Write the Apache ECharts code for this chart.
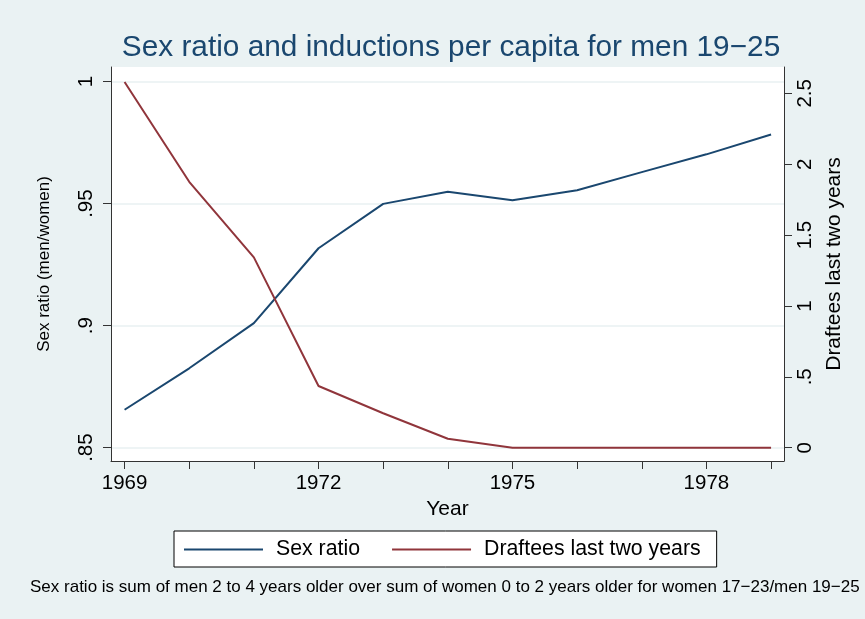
<!DOCTYPE html>
<html>
<head>
<meta charset="utf-8">
<script src="https://cdn.jsdelivr.net/npm/echarts@6/dist/echarts.min.js"></script>
<style>
	html, body { margin: 0; padding: 0; background: #eaf2f3; }
	#chart { width: 865px; height: 619px; }
</style>
</head>
<body>
<div id="chart"></div>
<script>
// years and values
var years = [1969, 1970, 1971, 1972, 1973, 1974, 1975, 1976, 1977, 1978, 1979];
var sexRatio = [0.8655, 0.8825, 0.901, 0.9317, 0.9499, 0.9549, 0.9514, 0.9555, 0.9629, 0.9702, 0.9783];
var draftees = [2.58, 1.876, 1.343, 0.435, 0.243, 0.063, 0, 0, 0, 0, 0];

// tick labels
var xLabelYears = [1969, 1972, 1975, 1978];
var leftTicks = [0.85, 0.9, 0.95, 1];
var rightTicks = [0, 0.5, 1, 1.5, 2, 2.5];

var blue = '#1a476f';
var red = '#90353b';
var font = 'Liberation Sans, Arial, sans-serif';

function stataNum(v) {
	// Stata style: .85 instead of 0.85
	var s = String(v);
	if (s.indexOf('0.') == 0) {
		s = s.substring(1);
	}
	return s;
}

var chart = echarts.init(document.getElementById('chart'));

var option = {
	backgroundColor: '#eaf2f3',
	animation: false,
	textStyle: { fontFamily: font },
	title: {
		text: 'Sex ratio and inductions per capita for men 19\u221225',
		left: 446,
		textAlign: 'center',
		top: 28,
		textStyle: { color: blue, fontSize: 29.8, fontWeight: 'normal', fontFamily: font }
	},
	grid: {
		left: 111,
		right: 81,
		top: 67,
		bottom: 158,
		show: true,
		backgroundColor: '#ffffff',
		borderWidth: 0
	},
	legend: {
		top: 531,
		left: 174,
		backgroundColor: '#ffffff',
		borderColor: '#000000',
		borderWidth: 1,
		borderRadius: 0,
		padding: [8, 16, 7, 10],
		itemGap: 32,
		itemWidth: 79,
		itemHeight: 2,
		icon: 'rect',
		textStyle: { fontSize: 21.3, color: '#000', fontFamily: font, padding: [0, 0, 0, 8] },
		data: ['Sex ratio', 'Draftees last two years']
	},
	graphic: [{
		type: 'text',
		left: 30,
		top: 579,
		style: {
			text: 'Sex ratio is sum of men 2 to 4 years older over sum of women 0 to 2 years older for women 17\u221223/men 19\u221225',
			fill: '#000',
			font: '17px ' + font
		}
	}],
	xAxis: {
		type: 'value',
		min: 1968.79,
		max: 1979.2,
		name: 'Year',
		nameLocation: 'middle',
		nameGap: 34,
		nameTextStyle: { fontSize: 21, color: '#000' },
		axisLine: { show: true, onZero: false, lineStyle: { color: '#333', width: 1 } },
		axisTick: { show: true, length: 8, lineStyle: { color: '#333' }, customValues: years },
		axisLabel: {
			fontSize: 20.5, color: '#000', margin: 12,
			customValues: xLabelYears,
			formatter: function(v) { return String(v); }
		},
		splitLine: { show: false }
	},
	yAxis: [{
		type: 'value',
		position: 'left',
		min: 0.8445,
		max: 1.006,
		name: 'Sex ratio (men/women)',
		nameLocation: 'middle',
		nameRotate: 90,
		nameGap: 58,
		nameTextStyle: { fontSize: 17, color: '#000' },
		axisLine: { show: true, lineStyle: { color: '#333', width: 1 } },
		axisTick: { show: true, length: 8, lineStyle: { color: '#333' }, customValues: leftTicks },
		axisLabel: {
			fontSize: 20.5, color: '#000', rotate: 90, margin: 14,
			customValues: leftTicks,
			formatter: function(v) { return stataNum(v); }
		},
		splitLine: { show: true, lineStyle: { color: '#e8f0f2', width: 1.5 } }
	}, {
		type: 'value',
		position: 'right',
		min: -0.094,
		max: 2.686,
		name: 'Draftees last two years',
		nameLocation: 'middle',
		nameRotate: 90,
		nameGap: 31,
		nameTextStyle: { fontSize: 21, color: '#000' },
		axisLine: { show: true, lineStyle: { color: '#333', width: 1 } },
		axisTick: { show: true, length: 8, lineStyle: { color: '#333' }, customValues: rightTicks },
		axisLabel: {
			fontSize: 20.5, color: '#000', rotate: 90, margin: 11,
			customValues: rightTicks,
			formatter: function(v) { return stataNum(v); }
		},
		splitLine: { show: false }
	}],
	series: [{
		name: 'Sex ratio',
		type: 'line',
		yAxisIndex: 0,
		symbol: 'none',
		lineStyle: { color: blue, width: 2 },
		itemStyle: { color: blue },
		data: years.map(function(y, i) { return [y, sexRatio[i]]; })
	}, {
		name: 'Draftees last two years',
		type: 'line',
		yAxisIndex: 1,
		symbol: 'none',
		lineStyle: { color: red, width: 2 },
		itemStyle: { color: red },
		data: years.map(function(y, i) { return [y, draftees[i]]; })
	}]
};
chart.setOption(option);
</script>
</body>
</html>
